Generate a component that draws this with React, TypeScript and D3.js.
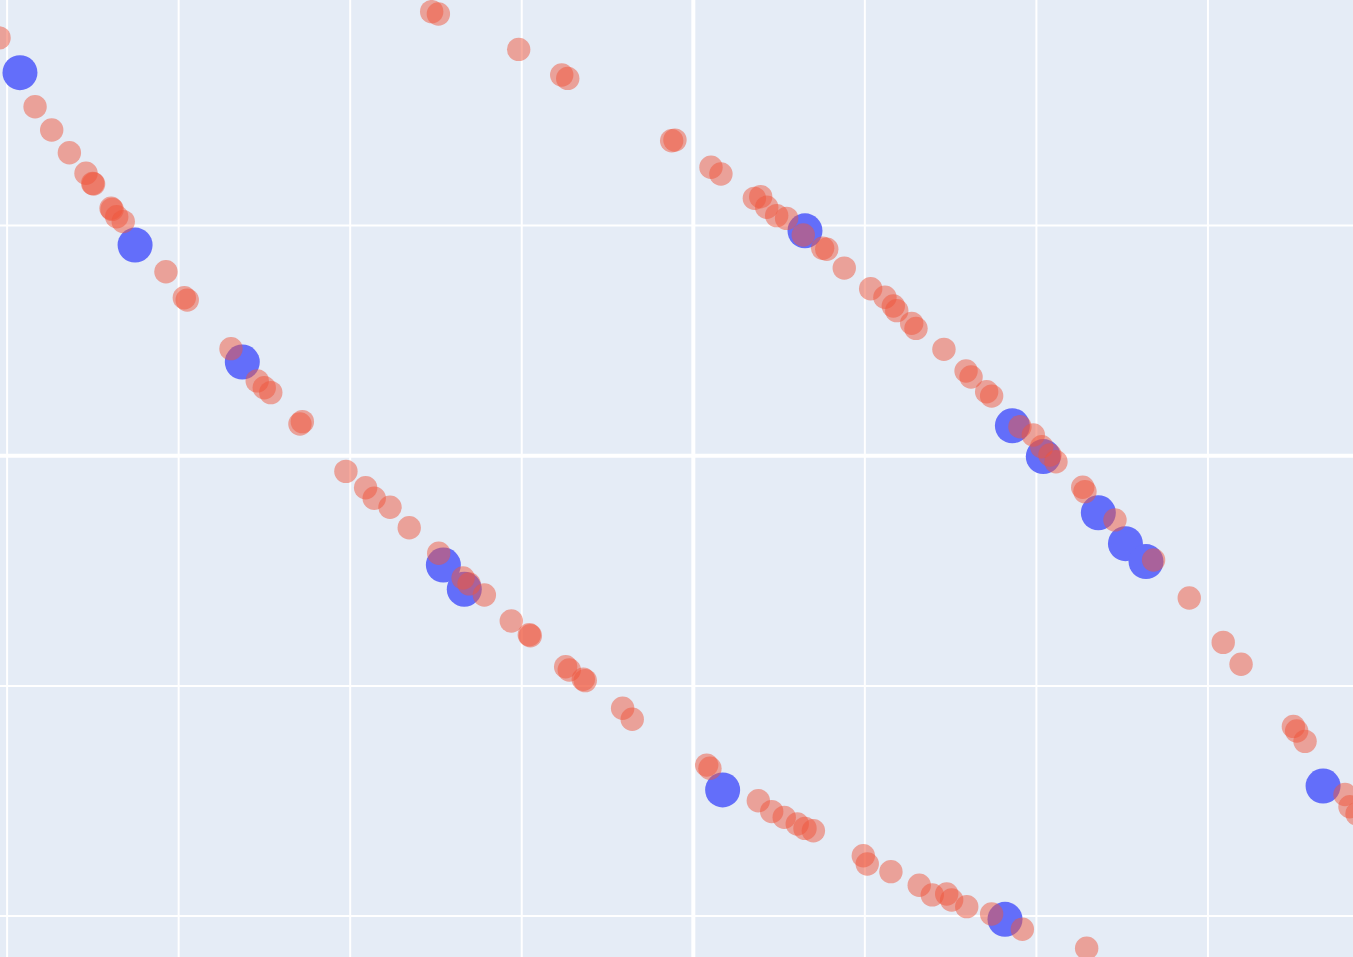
import React from "react";
import * as d3 from "d3";

const WIDTH = 1353;
const HEIGHT = 957;

const X_DOMAIN: [number, number] = [-4.0414, 3.8455];
const Y_DOMAIN: [number, number] = [-2.1777, 1.9796];
const X_TICKS = [-4, -3, -2, -1, 0, 1, 2, 3];
const Y_TICKS = [-2, -1, 0, 1];

const blueX = [-3.925, -3.254, -2.629, -1.457, -1.335, 0.171, 1.817, 0.651, 1.86, 2.04, 2.361, 2.519, 2.639, 3.671];
const blueY = [1.664, 0.915, 0.407, -0.475, -0.58, -1.452, -2.014, 0.977, 0.13, -0.004, -0.248, -0.382, -0.46, -1.435];

const redX = [
  -4.047, -3.837, -3.74, -3.637, -3.54, -3.501, -3.496, -3.394, -3.388, -3.361, -3.323, -3.074,
  -2.967, -2.95, -2.695, -2.542, -2.501, -2.463, -2.293, -2.279, -2.025, -1.91,
  -1.86, -1.768, -1.656, -1.484, -1.342, -1.307, -1.218, -1.061, -0.956, -0.95,
  -0.744, -0.723, -0.641, -0.63, -0.412, -0.356, 0.078, 0.097, 0.379, 0.457,
  0.53, 0.606, 0.651, 0.7, 0.991, 1.014, 1.152, 1.317, 1.393, 1.477,
  1.506, 1.594, 1.739, 1.918, 2.293,
  -1.525, -1.486, -1.018, -0.767, -0.732, -0.126, -0.107, 0.103, 0.161, 0.356,
  0.393, 0.428, 0.486, 0.544, 0.641, 0.754, 0.778, 0.88, 1.034, 1.117,
  1.166, 1.186, 1.273, 1.298, 1.461, 1.59, 1.619, 1.71, 1.739, 1.904,
  1.982, 2.031, 2.079, 2.114, 2.27, 2.283, 2.458, 2.683, 2.891, 3.089,
  3.193, 3.498, 3.517, 3.566, 3.799, 3.828, 3.869,
];
const redY = [
  1.815, 1.516, 1.415, 1.316, 1.227, 1.183, 1.18, 1.075, 1.07, 1.038, 1.017, 0.799,
  0.686, 0.676, 0.465, 0.325, 0.295, 0.274, 0.138, 0.148, -0.068, -0.139,
  -0.185, -0.224, -0.313, -0.424, -0.531, -0.557, -0.605, -0.718, -0.778, -0.782,
  -0.917, -0.931, -0.971, -0.977, -1.097, -1.145, -1.344, -1.358, -1.499, -1.546,
  -1.571, -1.6, -1.619, -1.629, -1.738, -1.774, -1.807, -1.866, -1.908, -1.904,
  -1.93, -1.959, -1.991, -2.057, -2.14,
  1.929, 1.919, 1.765, 1.654, 1.639, 1.368, 1.371, 1.253, 1.224, 1.118,
  1.125, 1.079, 1.043, 1.031, 0.959, 0.901, 0.897, 0.815, 0.725, 0.688,
  0.65, 0.63, 0.575, 0.553, 0.462, 0.368, 0.342, 0.278, 0.259, 0.126,
  0.09, 0.039, 0.003, -0.026, -0.137, -0.156, -0.279, -0.453, -0.618, -0.811,
  -0.906, -1.176, -1.196, -1.241, -1.472, -1.525, -1.556,
];

export default function App() {
  const x = d3.scaleLinear().domain(X_DOMAIN).range([0, WIDTH]);
  const y = d3.scaleLinear().domain(Y_DOMAIN).range([HEIGHT, 0]);

  const blue = blueX.map((v, i) => ({ x: v, y: blueY[i] }));
  const red = redX.map((v, i) => ({ x: v, y: redY[i] }));

  return (
    <svg
      width={WIDTH}
      height={HEIGHT}
      style={{ position: "absolute", left: 0, top: 0, display: "block" }}
    >
      <rect x={0} y={0} width={WIDTH} height={HEIGHT} fill="#E5ECF6" />
      <g>
        {X_TICKS.map((t) => (
          <line
            key={"gx" + t}
            x1={x(t)}
            x2={x(t)}
            y1={0}
            y2={HEIGHT}
            stroke="#ffffff"
            strokeWidth={t === 0 ? 4 : 2}
          />
        ))}
        {Y_TICKS.map((t) => (
          <line
            key={"gy" + t}
            x1={0}
            x2={WIDTH}
            y1={y(t)}
            y2={y(t)}
            stroke="#ffffff"
            strokeWidth={t === 0 ? 4 : 2}
          />
        ))}
      </g>
      <g>
        {blue.map((d, i) => (
          <circle key={"b" + i} cx={x(d.x)} cy={y(d.y)} r={17.5} fill="#636EFA" />
        ))}
      </g>
      <g>
        {red.map((d, i) => (
          <circle key={"r" + i} cx={x(d.x)} cy={y(d.y)} r={11.7} fill="#EF553B" fillOpacity={0.5} />
        ))}
      </g>
    </svg>
  );
}
